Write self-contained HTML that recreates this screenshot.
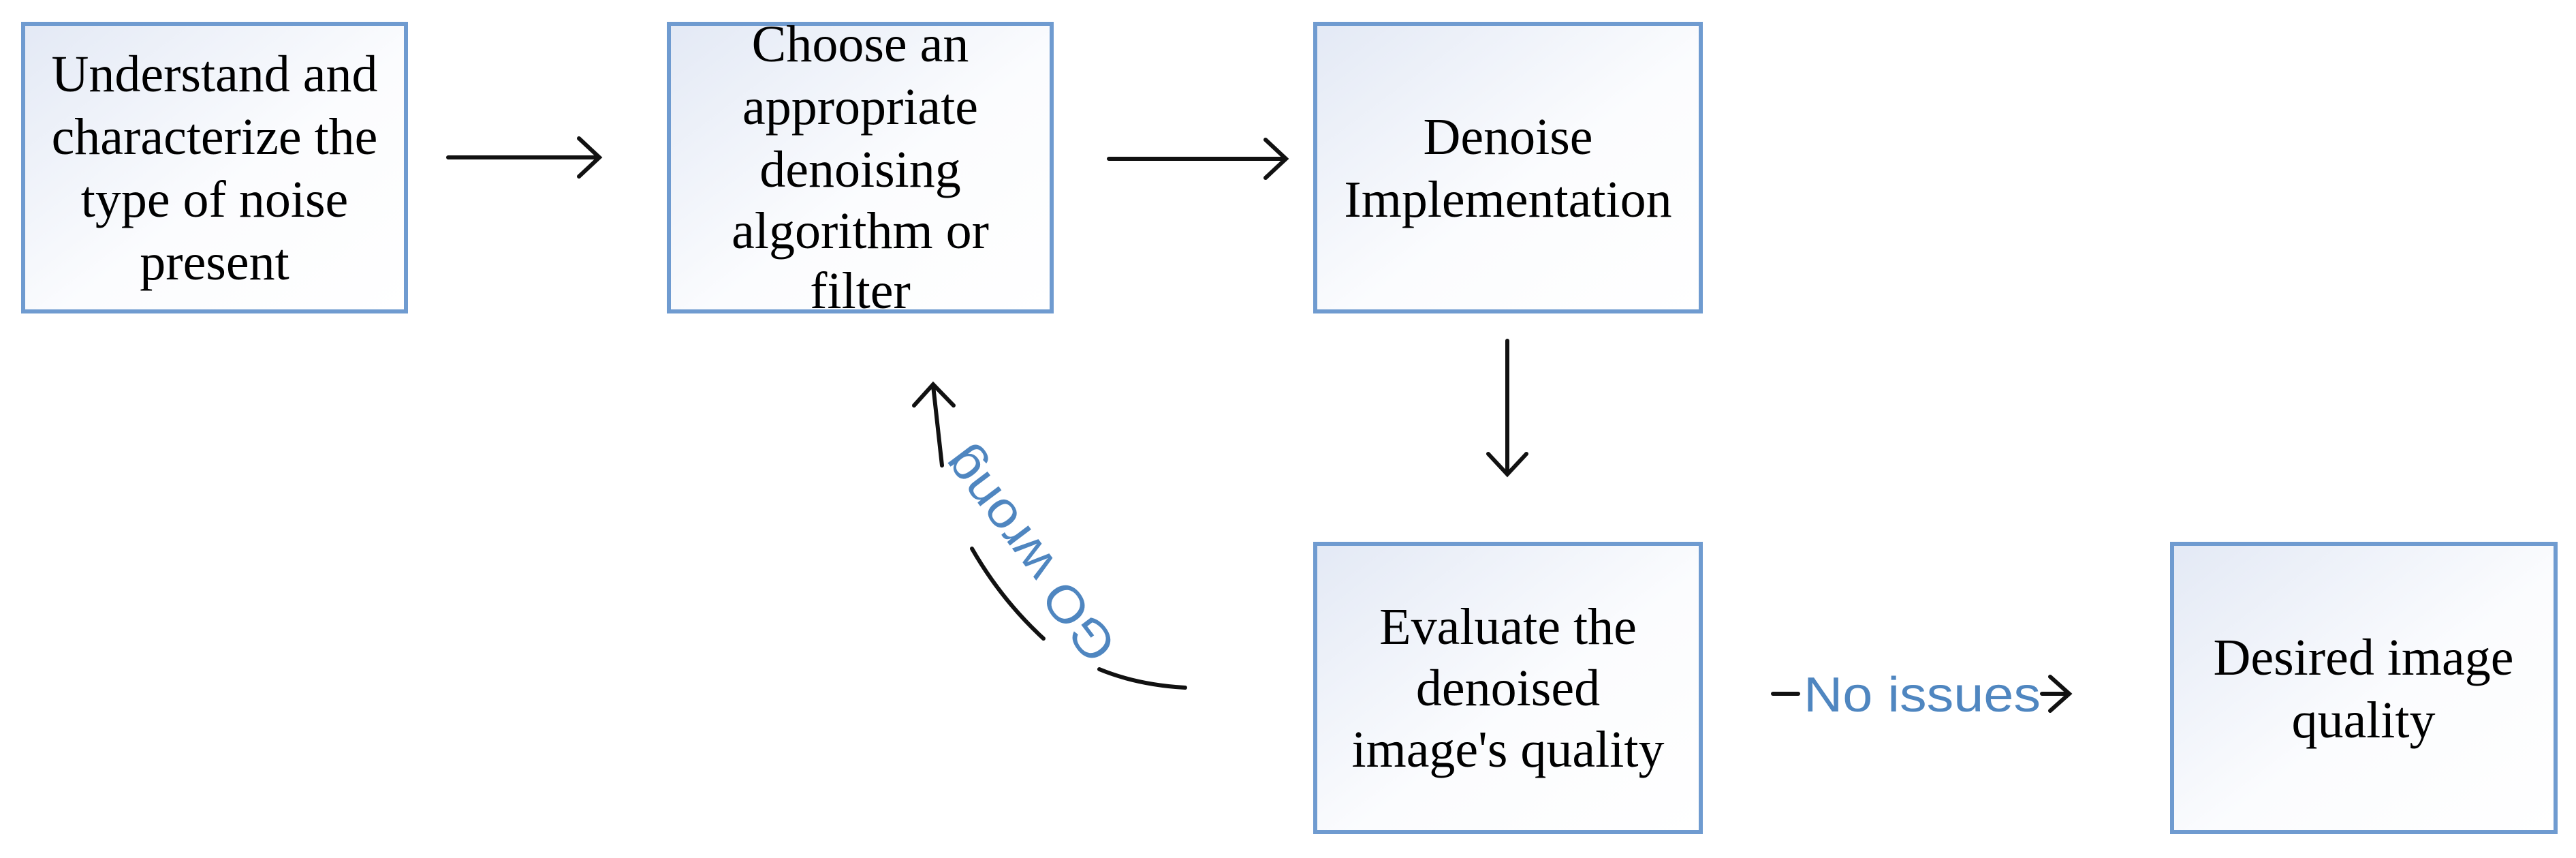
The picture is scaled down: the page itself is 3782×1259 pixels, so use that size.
<!DOCTYPE html>
<html><head><meta charset="utf-8"><style>
html,body{margin:0;padding:0;background:#fff;width:3782px;height:1259px;overflow:hidden}
svg{display:block}
.t{font-family:"Liberation Serif",serif;font-size:76px;fill:#000;text-anchor:middle}
</style></head><body>
<svg width="3782" height="1259" viewBox="0 0 3782 1259" xmlns="http://www.w3.org/2000/svg">
<defs>
<linearGradient id="g" x1="0" y1="0" x2="1" y2="1">
<stop offset="0" stop-color="#e3e9f5"/><stop offset="0.55" stop-color="#fbfcfe"/><stop offset="1" stop-color="#ffffff"/>
</linearGradient>
</defs>
<g fill="url(#g)" stroke="#6f9bd0" stroke-width="6">
<rect x="34" y="35" width="562" height="422"/>
<rect x="982" y="35" width="562" height="422"/>
<rect x="1931" y="35" width="566" height="422"/>
<rect x="1931" y="798" width="566" height="423"/>
<rect x="3189" y="798" width="563" height="423"/>
</g>
<g class="t">
<text class="t" x="315" y="134">Understand and</text>
<text class="t" x="315" y="226">characterize the</text>
<text class="t" x="315" y="318">type of noise</text>
<text class="t" x="315" y="410">present</text>
<text class="t" x="1263" y="90">Choose an</text>
<text class="t" x="1263" y="182">appropriate</text>
<text class="t" x="1263" y="274">denoising</text>
<text class="t" x="1263" y="364">algorithm or</text>
<text class="t" x="1263" y="452">filter</text>
<text class="t" x="2214" y="226">Denoise</text>
<text class="t" x="2214" y="318">Implementation</text>
<text class="t" x="2214" y="945">Evaluate the</text>
<text class="t" x="2214" y="1035">denoised</text>
<text class="t" x="2214" y="1125">image's quality</text>
<text class="t" x="3470" y="990">Desired image</text>
<text class="t" x="3470" y="1082">quality</text>
</g>
<g stroke="#111" stroke-width="6" fill="none" stroke-linecap="round">
<path d="M658 231 H878 M850 203 L880 231 L850 259"/>
<path d="M1628 233 H1886 M1858 205 L1888 233 L1858 261"/>
<path d="M2213 500 V694 M2185 666 L2213 696 L2241 666"/>
<path d="M2603 1018 H2640"/>
<path d="M2998 1018 H3036 M3010 993 L3038 1018 L3010 1043"/>
<path d="M1383 683 L1370 566 M1342 595 L1370 564 L1400 595"/>
<path d="M1427 805 Q1470 880 1532 937"/>
<path d="M1614 982 Q1670 1005 1740 1009"/>
</g>
<text x="2648" y="1044" font-family="Liberation Sans,sans-serif" font-size="72" fill="#4f86c0" textLength="348" lengthAdjust="spacingAndGlyphs">No issues</text>
<text transform="translate(1510,815) rotate(-127)" x="0" y="26" text-anchor="middle" font-family="Liberation Sans,sans-serif" font-size="74" fill="#4f86c0" textLength="370" lengthAdjust="spacingAndGlyphs">GO wrong</text>
</svg>
</body></html>
